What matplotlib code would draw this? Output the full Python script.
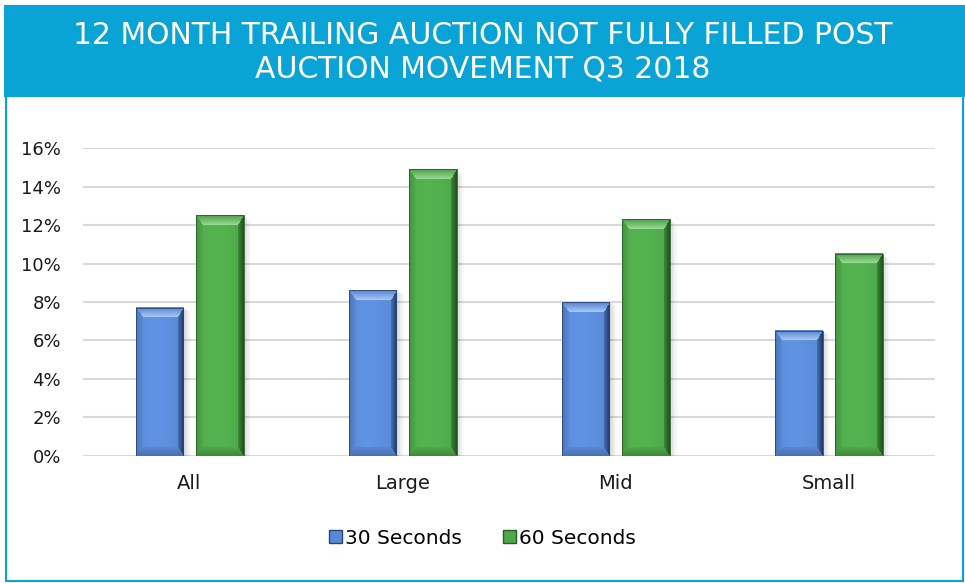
import numpy as np
import matplotlib.pyplot as plt
from matplotlib.patches import Rectangle, Patch

# data
categories = ['All', 'Large', 'Mid', 'Small']
sec30 = [0.077, 0.086, 0.080, 0.065]
sec60 = [0.125, 0.149, 0.123, 0.105]
series_names = ['30 Seconds', '60 Seconds']
yticks = np.arange(0, 0.161, 0.02)
title = '12 MONTH TRAILING AUCTION NOT FULLY FILLED POST\nAUCTION MOVEMENT Q3 2018'

plt.rcParams['font.family'] = 'DejaVu Sans'

# bevel colours: (outer edge, inner) for each side, plus face and outline
blue = dict(base='#5A8AD6',
            top=('#5482CC', '#A9C8F5'), left=('#4A75BC', '#5C8AD5'),
            right=('#1E3663', '#4670B4'), bottom=('#4A70B0', '#5A86D0'),
            edge='#2A4578')
green = dict(base='#4FA94B',
             top=('#4A9E46', '#9BDB96'), left=('#43933E', '#52AA4D'),
             right=('#1E4F1C', '#3D883A'), bottom=('#3E883A', '#4FA84B'),
             edge='#285F25')


def hex_rgb(h):
    h = h.lstrip('#')
    return np.array([int(h[i:i + 2], 16) / 255 for i in (0, 2, 4)])


def bevel_bar(ax, patch, cols, b=10):
    x0, w, h = patch.get_x(), patch.get_width(), patch.get_height()
    (px0, py0), (px1, py1) = ax.transData.transform([(x0, 0), (x0 + w, h)])
    nx, ny = max(int(round(px1 - px0)), 2), max(int(round(py1 - py0)), 2)
    X, Y = np.meshgrid(np.arange(nx) + 0.5, np.arange(ny) + 0.5)
    widths = {'top': b, 'bottom': b * 0.9, 'left': b * 0.7, 'right': b * 0.6}
    dists = {'top': Y / widths['top'], 'bottom': (ny - Y) / widths['bottom'],
             'left': X / widths['left'], 'right': (nx - X) / widths['right']}
    keys = list(dists)
    stack = np.stack([dists[k] for k in keys])
    which = stack.argmin(axis=0)
    tmin = stack.min(axis=0)
    base = hex_rgb(cols['base'])
    shade = 1.0 + 0.06 * np.cos((X / nx - 0.4) * np.pi)
    img = np.clip(base[None, None, :] * shade[..., None], 0, 1)
    for k, key in enumerate(keys):
        m = (which == k) & (tmin < 1)
        c0, c1 = hex_rgb(cols[key][0]), hex_rgb(cols[key][1])
        t = tmin[m][:, None]
        img[m] = c0 * (1 - t) + c1 * t
    # soft shadow on the right
    for i, a in enumerate([0.09, 0.07, 0.05, 0.03]):
        off = (i + 1) * w * 0.04
        ax.add_patch(Rectangle((x0 + off, 0), w, h * (1 - 0.008 * i), color='#444444',
                               alpha=a, lw=0, zorder=2))
    ax.imshow(img, extent=(x0, x0 + w, 0, h), aspect='auto', zorder=3,
              interpolation='bilinear')
    ax.add_patch(Rectangle((x0, 0), w, h, fill=False, edgecolor=cols['edge'], lw=0.6, zorder=4))


fig = plt.figure(figsize=(9.65, 5.83), dpi=100)
fig.patches.append(Rectangle((0.004, 0.834), 0.996, 0.158, transform=fig.transFigure,
                             facecolor='#09A3D6', edgecolor='none', zorder=0))
fig.patches.append(Rectangle((0.006, 0.004), 0.992, 0.985, transform=fig.transFigure,
                             fill=False, edgecolor='#09A3D6', lw=1.5, zorder=0))
fig.text(0.5, 0.911, title, ha='center', va='center', color='white', fontsize=21.5,
         linespacing=1.2)

ax = fig.add_axes([0.086, 0.218, 0.883, 0.528])
x = np.arange(len(categories))
w = 0.225
ax.set_xlim(-0.5, len(categories) - 0.5)
ax.set_ylim(0, 0.16)

bars30 = ax.bar(x - 0.141, sec30, w, color='none', label=series_names[0])
bars60 = ax.bar(x + 0.141, sec60, w, color='none', label=series_names[1])
for p in bars30:
    bevel_bar(ax, p, blue)
for p in bars60:
    bevel_bar(ax, p, green)
ax.set_xlim(-0.5, len(categories) - 0.5)
ax.set_ylim(0, 0.16)

ax.set_yticks(yticks)
ax.set_yticklabels([f'{v * 100:.0f}%' for v in yticks])
ax.set_xticks(x)
ax.set_xticklabels(categories)
ax.tick_params(axis='y', length=0, labelsize=13, colors='#1a1a1a', pad=16)
ax.tick_params(axis='x', length=0, labelsize=14, colors='#1a1a1a', pad=13)
ax.yaxis.grid(True, color='#D9D9D9', lw=1.5)
ax.set_axisbelow(True)
for s in ax.spines.values():
    s.set_visible(False)

handles = [Patch(facecolor=blue['base'], edgecolor=blue['edge']),
           Patch(facecolor=green['base'], edgecolor=green['edge'])]
fig.legend(handles, series_names, loc='center', bbox_to_anchor=(0.5, 0.077), ncol=2,
           frameon=False, fontsize=14.5, handlelength=0.65, handleheight=0.65,
           handletextpad=0.15, columnspacing=2.0)

fig.savefig('out.png', dpi=100)
